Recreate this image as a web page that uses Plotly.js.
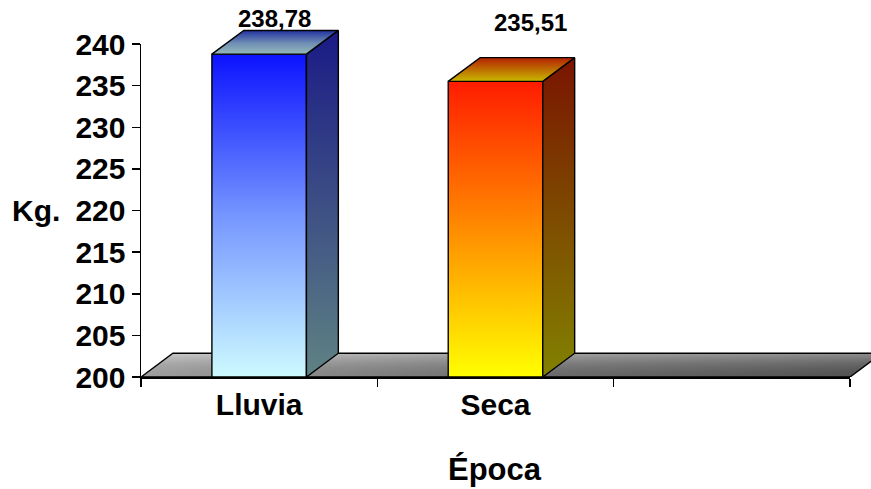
<!DOCTYPE html>
<html>
<head>
<meta charset="utf-8">
<script src="https://cdn.plot.ly/plotly-3.0.1.min.js"></script>
<style>
  html, body { margin: 0; padding: 0; background: #ffffff; }
  #chart { width: 871px; height: 489px; }
</style>
</head>
<body>
<div id="chart"></div>
<script>
// Peso promedio (kg) por época del año
const categories = ['Lluvia', 'Seca', ' '];
const pesoKg = [238.78, 235.51];
const yTicks = [200, 205, 210, 215, 220, 225, 230, 235, 240];

const FONT = '"Liberation Sans", Arial, Helvetica, sans-serif';

// Page geometry (pixels)
const W = 871, H = 489;
const plotL = 141, plotR = 871, plotT = 10, plotB = 377;   // drawing area for the 3-D faces
const axisRight = 850, axisTop = 44;                      // extent of the visible axes
const Y_MIN = 200, Y_MAX = 240;
const nCat = categories.length;

// Pseudo 3-D look: half bar width (category units) and depth offsets
const barHalf = 0.2;
const depthX = 0.135;   // category units
const depthY = 2.85;    // kg units

// The face layer uses axes stretched past the visible axes so nothing is clipped
const xSpan = nCat * (plotR - plotL) / (axisRight - plotL);
const ySpan = (Y_MAX - Y_MIN) * (plotB - plotT) / (plotB - axisTop);

const barStyles = [
  { front: [[0, '#cdfaff'], [0.5, '#7596ff'], [1, '#0c12ff']],
    side:  [[0, '#5f8383'], [1, '#1a1a86']],
    top:   [[0, '#95baba'], [0.45, '#7090b4'], [1, '#2232a0']] },
  { front: [[0, '#ffff00'], [0.5, '#ff8c00'], [1, '#ff1c00']],
    side:  [[0, '#828200'], [1, '#7a1400']],
    top:   [[0, '#c8b800'], [1, '#b42200']] }
];

function face(xs, ys, scale, type, lineW) {
  return {
    type: 'scatter', mode: 'lines',
    x: xs.concat([xs[0]]), y: ys.concat([ys[0]]),
    fill: 'toself',
    fillgradient: { type: type || 'vertical', colorscale: scale },
    line: { color: '#000000', width: lineW === undefined ? 1.4 : lineW },
    xaxis: 'x2', yaxis: 'y2',
    hoverinfo: 'skip', showlegend: false
  };
}

// Invisible series on the visible axes so that subplot (ticks, axis lines) is built
const traces = [{
  type: 'scatter', mode: 'none', x: pesoKg.map((v, i) => i), y: pesoKg,
  xaxis: 'x', yaxis: 'y', hoverinfo: 'skip', showlegend: false
}];

// Floor
const fx0 = -0.5, fx1 = nCat - 0.5;
const floorX = [fx0, fx0 + depthX, fx1 + depthX, fx1];
const floorY = [Y_MIN, Y_MIN + depthY, Y_MIN + depthY, Y_MIN];
traces.push(face(floorX, floorY, [[0, '#b4b4b4'], [0.5, '#7c7c7c'], [1, '#5a5a5a']], 'horizontal', 0));
traces.push(face(floorX, floorY, [[0, 'rgba(0,0,0,0.12)'], [1, 'rgba(255,255,255,0.32)']], 'vertical', 1.4));

// Bars
pesoKg.forEach((v, i) => {
  const s = barStyles[i];
  const xl = i - barHalf, xr = i + barHalf;
  traces.push(face([xl, xl, xr, xr], [Y_MIN, v, v, Y_MIN], s.front));
  traces.push(face([xr, xr + depthX, xr + depthX, xr], [Y_MIN, Y_MIN + depthY, v + depthY, v], s.side));
  traces.push(face([xl, xl + depthX, xr + depthX, xr], [v, v + depthY, v + depthY, v], s.top));
});

// Value labels
const labelShift = [[15, 36], [35, 59]];
const annotations = pesoKg.map((v, i) => ({
  xref: 'x2', yref: 'y2', x: i, y: v,
  xshift: labelShift[i][0], yshift: labelShift[i][1],
  text: v.toFixed(2).replace('.', ','),
  showarrow: false, xanchor: 'center', yanchor: 'middle',
  font: { family: FONT, size: 24, color: '#000', weight: 'bold' }
}));

const pw = plotR - plotL, ph = plotB - plotT;
annotations.push({
  xref: 'paper', yref: 'paper', x: (36 - plotL) / pw, y: (plotB - 210) / ph,
  text: 'Kg.', showarrow: false, xanchor: 'center', yanchor: 'middle',
  font: { family: FONT, size: 30, color: '#000', weight: 'bold' }
});
annotations.push({
  xref: 'paper', yref: 'paper', x: (495 - plotL) / pw, y: (plotB - 469) / ph,
  text: 'Época', showarrow: false, xanchor: 'center', yanchor: 'middle',
  font: { family: FONT, size: 31, color: '#000', weight: 'bold' }
});

const tickFont = { family: FONT, size: 30, color: '#000', weight: 'bold' };

const layout = {
  width: W, height: H,
  margin: { l: plotL, r: W - plotR, t: plotT, b: H - plotB, pad: 0 },
  paper_bgcolor: '#ffffff', plot_bgcolor: 'rgba(0,0,0,0)',
  showlegend: false,
  xaxis: {
    anchor: 'y', domain: [0, (axisRight - plotL) / pw],
    type: 'linear', range: [-0.5, nCat - 0.5],
    tickmode: 'array', tickvals: categories.map((c, i) => i), ticktext: categories,
    ticks: '', showline: true, linecolor: '#000', linewidth: 1.5,
    showgrid: false, zeroline: false, tickfont: tickFont,
    minor: { tickmode: 'array', tickvals: categories.map((c, i) => i - 0.5).concat([nCat - 0.5]),
             ticks: 'outside', ticklen: 8, tickwidth: 1.5, tickcolor: '#000', showgrid: false },
    fixedrange: true
  },
  yaxis: {
    anchor: 'x', domain: [0, (plotB - axisTop) / ph],
    type: 'linear', range: [Y_MIN, Y_MAX],
    tickmode: 'array', tickvals: yTicks,
    ticks: 'outside', ticklen: 8, tickwidth: 1.5, tickcolor: '#000',
    showline: true, linecolor: '#000', linewidth: 1.5,
    showgrid: false, zeroline: false, tickfont: tickFont,
    fixedrange: true
  },
  xaxis2: {
    anchor: 'y2', domain: [0, 1], type: 'linear',
    range: [-0.5, -0.5 + xSpan], visible: false, fixedrange: true
  },
  yaxis2: {
    anchor: 'x2', domain: [0, 1], type: 'linear',
    range: [Y_MIN, Y_MIN + ySpan], visible: false, fixedrange: true
  },
  annotations: annotations
};

Plotly.newPlot('chart', traces, layout, { displayModeBar: false, staticPlot: true });
</script>
</body>
</html>
